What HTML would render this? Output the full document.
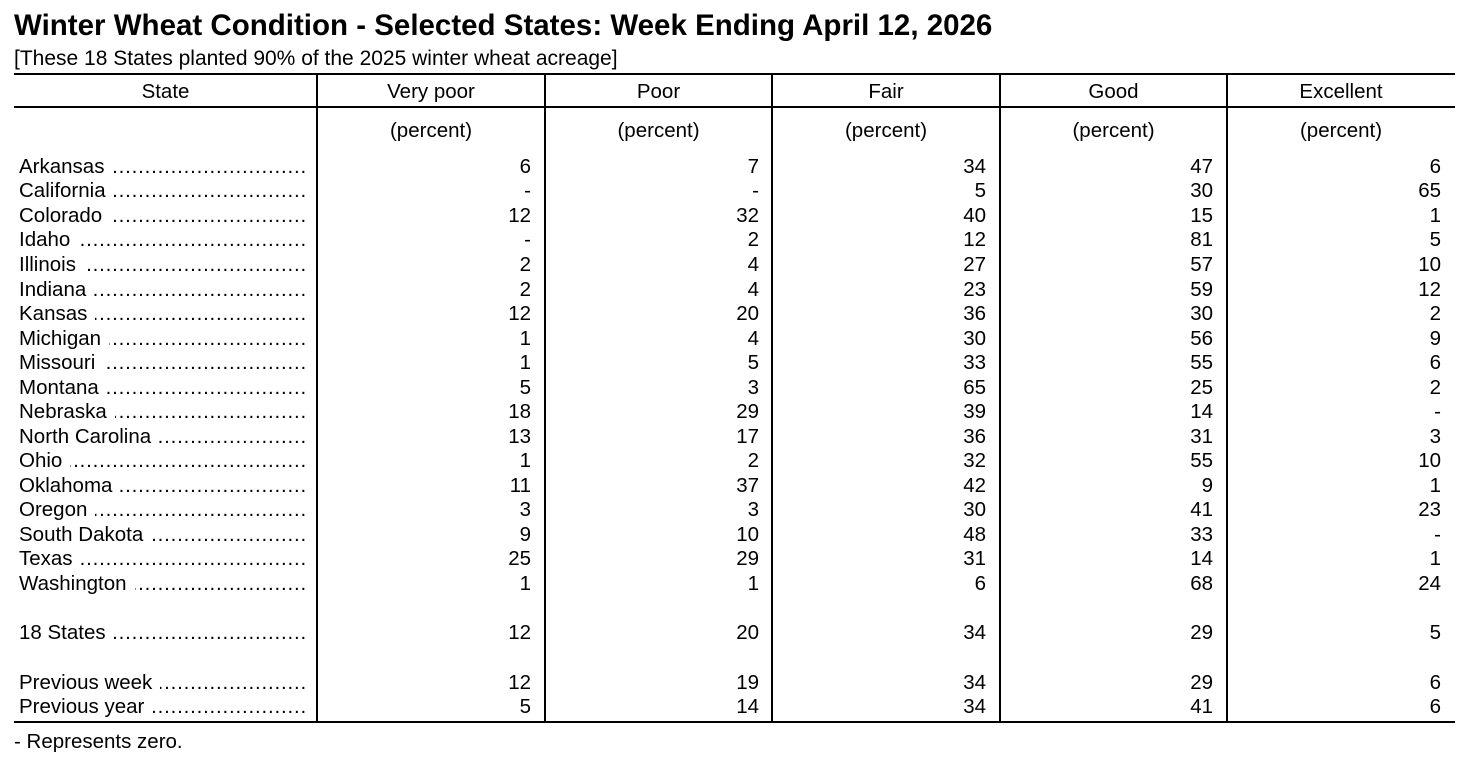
<!DOCTYPE html>
<html><head><meta charset="utf-8"><style>
body{margin:0;width:1474px;height:766px;background:#fff;font-family:"Liberation Sans",Arial,sans-serif;color:#000;position:relative;overflow:hidden}
.a{position:absolute;white-space:nowrap;font-size:20.5px;line-height:24px}
.h{position:absolute;background:#000}
.n{text-align:right;width:100px}
.st{position:absolute;left:19px;width:288px;display:flex;font-size:20.5px;line-height:24px;white-space:nowrap;overflow:hidden}
.st .d{flex:1;overflow:hidden;direction:rtl;margin-left:8px;letter-spacing:0.8px}
.c{text-align:center}
</style></head><body>
<div class="a" style="left:14px;top:9px;font-size:29.5px;line-height:34px;font-weight:bold">Winter Wheat Condition - Selected States: Week Ending April 12, 2026</div>
<div class="a" style="left:14px;top:47px;font-size:21px">[These 18 States planted 90% of the 2025 winter wheat acreage]</div>
<div class="h" style="left:14px;top:73px;width:1441px;height:2px"></div>
<div class="h" style="left:14px;top:106px;width:1441px;height:2px"></div>
<div class="h" style="left:14px;top:721px;width:1441px;height:2px"></div>
<div class="h" style="left:316px;top:74px;width:2px;height:648px"></div>
<div class="h" style="left:544px;top:74px;width:2px;height:648px"></div>
<div class="h" style="left:771px;top:74px;width:2px;height:648px"></div>
<div class="h" style="left:999px;top:74px;width:2px;height:648px"></div>
<div class="h" style="left:1226px;top:74px;width:2px;height:648px"></div>
<div id="t"></div>
<div class="a" style="left:14px;top:730px">- Represents zero.</div>
<script>
var t=document.getElementById('t'),h='';
var cols=[[14,317],[317,545],[545,772],[772,1000],[1000,1227],[1227,1455]];
var names=["State","Very poor","Poor","Fair","Good","Excellent"];
for(var i=0;i<6;i++){h+='<div class="a c" style="left:'+cols[i][0]+'px;width:'+(cols[i][1]-cols[i][0])+'px;top:80px">'+names[i]+'</div>';
if(i>0)h+='<div class="a c" style="left:'+cols[i][0]+'px;width:'+(cols[i][1]-cols[i][0])+'px;top:119px">(percent)</div>';}
var rows=[["Arkansas",167,"6","7","34","47","6"],["California",191,"-","-","5","30","65"],["Colorado",216,"12","32","40","15","1"],["Idaho",240,"-","2","12","81","5"],["Illinois",265,"2","4","27","57","10"],["Indiana",290,"2","4","23","59","12"],["Kansas",314,"12","20","36","30","2"],["Michigan",339,"1","4","30","56","9"],["Missouri",363,"1","5","33","55","6"],["Montana",388,"5","3","65","25","2"],["Nebraska",412,"18","29","39","14","-"],["North Carolina",437,"13","17","36","31","3"],["Ohio",461,"1","2","32","55","10"],["Oklahoma",486,"11","37","42","9","1"],["Oregon",510,"3","3","30","41","23"],["South Dakota",535,"9","10","48","33","-"],["Texas",559,"25","29","31","14","1"],["Washington",584,"1","1","6","68","24"],["18 States",633,"12","20","34","29","5"],["Previous week",683,"12","19","34","29","6"],["Previous year",707,"5","14","34","41","6"]];
var rx=[531,759,986,1213,1441];
var dots=new Array(80).join('.');
rows.forEach(function(r){var y=r[1]-12;
h+='<div class="st" style="top:'+y+'px"><span>'+r[0]+'</span><span class="d">'+dots+'</span></div>';
for(var k=0;k<5;k++)h+='<div class="a n" style="left:'+(rx[k]-100)+'px;top:'+y+'px">'+r[k+2]+'</div>';});
t.innerHTML=h;
</script>
</body></html>
